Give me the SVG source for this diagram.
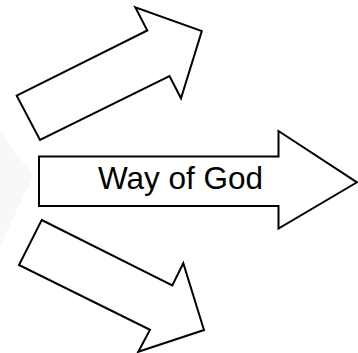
<svg xmlns="http://www.w3.org/2000/svg" width="358" height="353" viewBox="0 0 358 353">
<style>
.arrow{fill:#ffffff;stroke:#000000;stroke-width:2;stroke-linejoin:miter}
.lbl{font-family:"Liberation Sans",Arial,sans-serif;font-size:31.5px;fill:#000000}
</style>
<rect width="358" height="353" fill="#ffffff"/>
<polygon points="0,132 33,176 0,246" fill="#f8f8f8"/>
<g id="arrow-up">
<polygon class="arrow" points="16.7,95.7 147.3,30.5 135.3,7.3 201.8,31 181,98.3 169.5,76 40,140"/>
</g>
<g id="arrow-way-of-god">
<polygon class="arrow" points="39,156.5 278.5,156.5 278.5,131 357,182.3 278.5,228.5 278.5,206 39,206"/>
<text class="lbl" x="180.5" y="189" text-anchor="middle">Way of God</text>
</g>
<g id="arrow-down">
<polygon class="arrow" points="41.7,220 172.3,285.5 183.3,263.3 204,330 138.3,351.8 150,329.8 19,265"/>
</g>
</svg>
